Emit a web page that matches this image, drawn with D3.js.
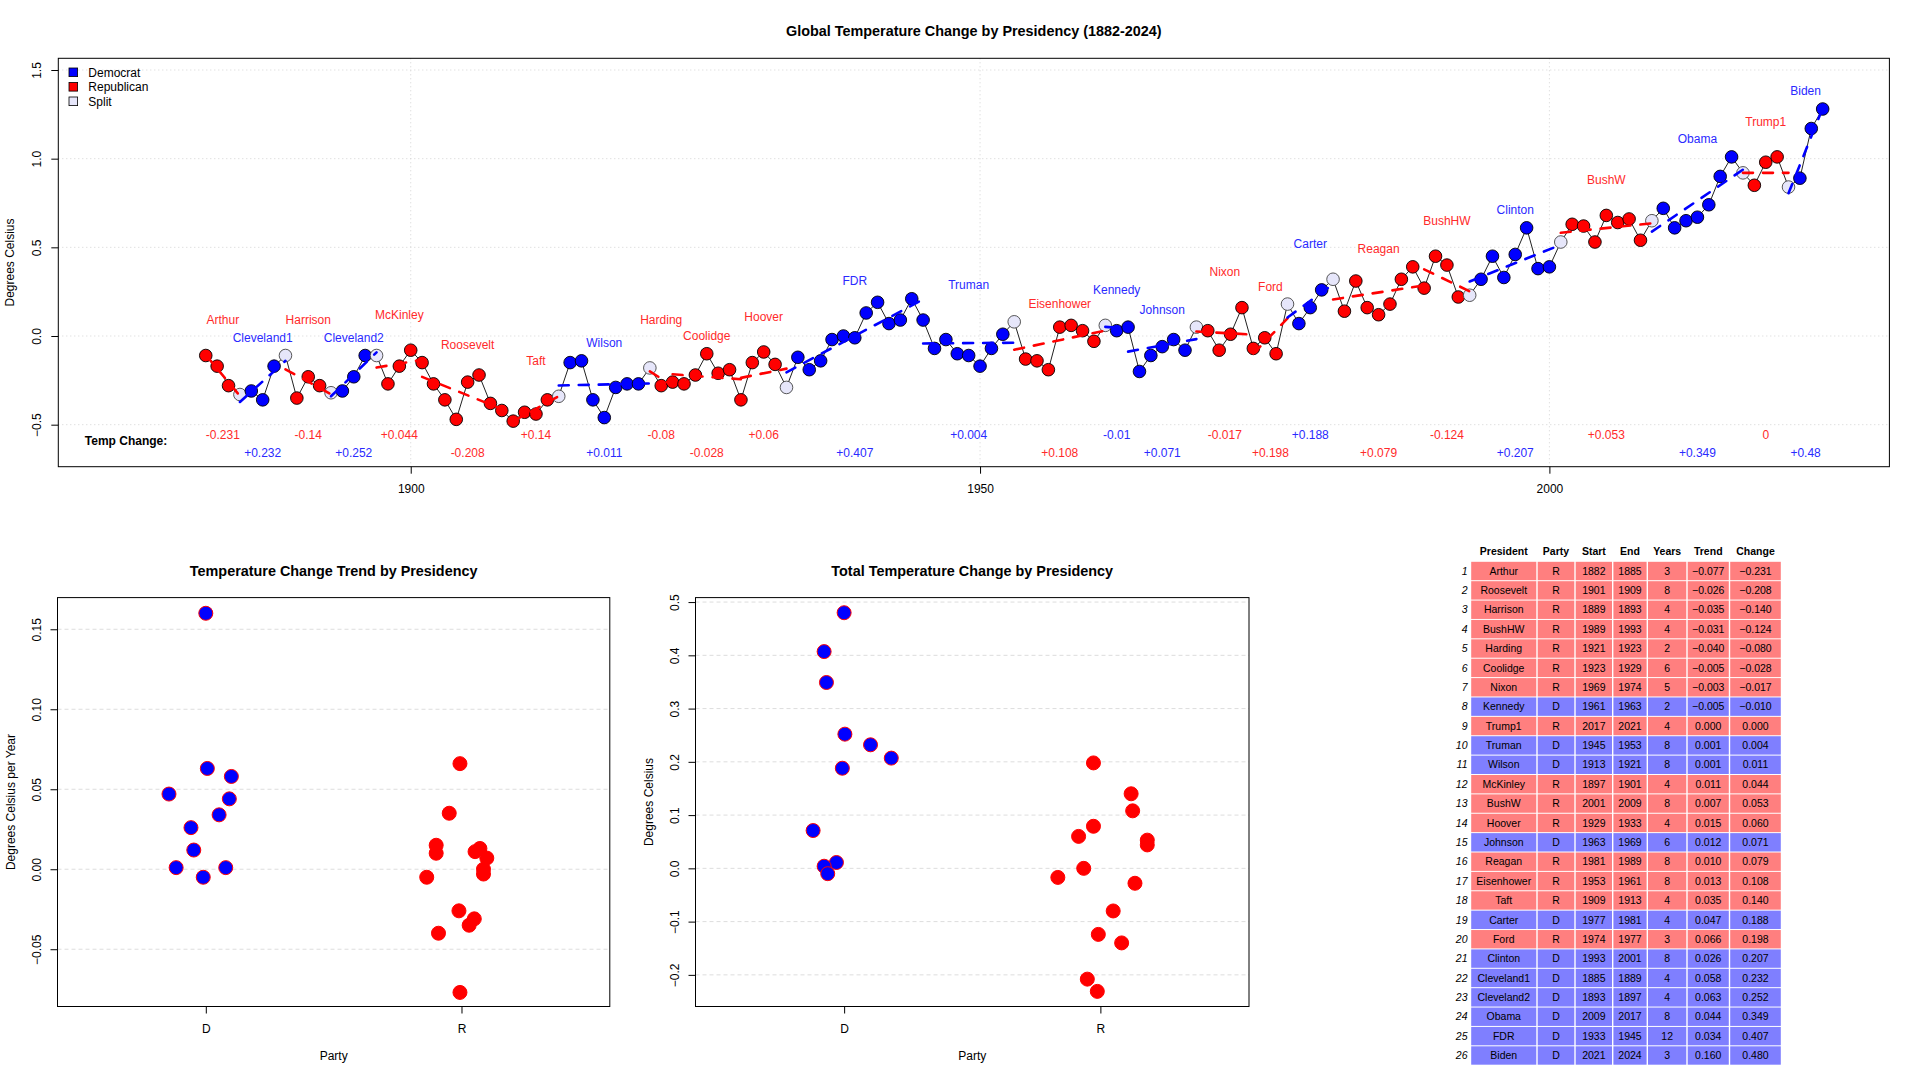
<!DOCTYPE html>
<html>
<head>
<meta charset="utf-8">
<script src="https://cdn.jsdelivr.net/npm/d3@7"></script>
<style>
body { margin: 0; background: #fff; }
svg { font-family: "Liberation Sans", Arial, Helvetica, sans-serif; }
</style>
</head>
<body>
<script>
"use strict";

// yearly global temperature anomaly (1882 .. 2024)
var firstYear = 1882;
var temps = [
  -0.11, -0.17, -0.28, -0.33, -0.31, -0.36, -0.17, -0.11,
  -0.35, -0.23, -0.28, -0.32, -0.31, -0.23, -0.11, -0.11, -0.27, -0.17,
  -0.08, -0.15, -0.27, -0.36, -0.47, -0.26, -0.22, -0.38, -0.42, -0.48,
  -0.43, -0.44, -0.36, -0.34, -0.15, -0.14, -0.36, -0.46, -0.29, -0.27,
  -0.27, -0.18, -0.28, -0.26, -0.27, -0.22, -0.10, -0.21, -0.19, -0.36,
  -0.15, -0.09, -0.16, -0.29, -0.12, -0.19, -0.14, -0.02, 0.00, -0.01,
  0.13, 0.19, 0.07, 0.09, 0.21, 0.09, -0.07, -0.02, -0.10, -0.11,
  -0.17, -0.07, 0.01, 0.08, -0.13, -0.14, -0.19, 0.05, 0.06, 0.03,
  -0.03, 0.06, 0.03, 0.05, -0.20, -0.11, -0.06, -0.02, -0.08, 0.05,
  0.03, -0.08, 0.01, 0.16, -0.07, -0.01, -0.10, 0.18, 0.07, 0.16,
  0.26, 0.32, 0.14, 0.31, 0.16, 0.12, 0.18, 0.32, 0.39, 0.27,
  0.45, 0.40, 0.22, 0.23, 0.32, 0.45, 0.33, 0.46, 0.61, 0.38,
  0.39, 0.53, 0.63, 0.62, 0.53, 0.68, 0.64, 0.66, 0.54, 0.65,
  0.72, 0.61, 0.65, 0.67, 0.74, 0.90, 1.01, 0.92, 0.85, 0.98,
  1.01, 0.84, 0.89, 1.17, 1.28
];

// presidencies in chronological order
var presNames  = ["Arthur","Cleveland1","Harrison","Cleveland2","McKinley","Roosevelt","Taft","Wilson","Harding","Coolidge","Hoover","FDR","Truman","Eisenhower","Kennedy","Johnson","Nixon","Ford","Carter","Reagan","BushHW","Clinton","BushW","Obama","Trump1","Biden"];
var presParty  = ["R","D","R","D","R","R","R","D","R","R","R","D","D","R","D","D","R","R","D","R","R","D","R","D","R","D"];
var presStart  = [1882,1885,1889,1893,1897,1901,1909,1913,1921,1923,1929,1933,1945,1953,1961,1963,1969,1974,1977,1981,1989,1993,2001,2009,2017,2021];
var presEnd    = [1885,1889,1893,1897,1901,1909,1913,1921,1923,1929,1933,1945,1953,1961,1963,1969,1974,1977,1981,1989,1993,2001,2009,2017,2021,2024];
var presTrend  = [-0.077,0.058,-0.035,0.063,0.011,-0.026,0.035,0.001,-0.040,-0.005,0.015,0.034,0.001,0.013,-0.005,0.012,-0.003,0.066,0.047,0.010,-0.031,0.026,0.007,0.044,0.000,0.160];
var presChange = [-0.231,0.232,-0.140,0.252,0.044,-0.208,0.140,0.011,-0.080,-0.028,0.060,0.407,0.004,0.108,-0.010,0.071,-0.017,0.198,0.188,0.079,-0.124,0.207,0.053,0.349,0.000,0.480];

// horizontal jitter of each president in the two strip charts (party units)
var trendJitter  = [-0.006,0.100,0.030,0.006,0.053,-0.010,-0.048,0.078,-0.090,-0.136,-0.099,0.052,-0.116,0.072,-0.010,-0.047,0.086,-0.006,-0.144,-0.099,0.050,-0.058,0.099,0.092,0.086,0.000];
var changeJitter = [-0.012,0.103,0.083,0.003,0.183,-0.051,0.120,-0.030,0.050,0.135,-0.085,-0.078,-0.078,0.126,-0.064,-0.121,-0.166,-0.027,-0.007,-0.027,-0.008,0.184,0.183,-0.069,-0.065,0.000];

var fill = {D: "#0000FF", R: "#FF0000", S: "#E6E6FA"};
var textCol = {D: "#2A2AFF", R: "#FF2A2A"};

var pres = presNames.map(function(n, i){
  return {i: i, name: n, party: presParty[i], start: presStart[i], end: presEnd[i],
          trend: presTrend[i], change: presChange[i]};
});

var years = temps.map(function(t, i){
  var y = firstYear + i;
  var ps = pres.filter(function(p){ return p.start <= y && y <= p.end; });
  var parties = new Set(ps.map(function(p){ return p.party; }));
  return {year: y, temp: t, cat: parties.size > 1 ? "S" : ps[0].party};
});

var svg = d3.select("body").append("svg")
  .attr("width", 1920).attr("height", 1080);
svg.append("rect").attr("width", 1920).attr("height", 1080).attr("fill", "#fff");

// axis helpers, R look
function yAxisR(scale, ticks, fmt, x0){
  var ax = svg.append("g").attr("transform", "translate(" + x0 + ",0)")
    .call(d3.axisLeft(scale).tickValues(ticks).tickFormat(fmt).tickSize(7).tickSizeOuter(0));
  ax.attr("font-family", null).attr("font-size", 12);
  ax.select(".domain").remove();
  ax.selectAll(".tick line").attr("stroke", "#000");
  ax.selectAll(".tick text")
    .attr("transform", "rotate(-90)")
    .attr("x", 0).attr("y", -17).attr("dy", 0)
    .attr("text-anchor", "middle").attr("fill", "#000");
}
function xAxisR(scale, ticks, fmt, y0){
  var ax = svg.append("g").attr("transform", "translate(0," + y0 + ")")
    .call(d3.axisBottom(scale).tickValues(ticks).tickFormat(fmt).tickSize(7).tickSizeOuter(0));
  ax.attr("font-family", null).attr("font-size", 12);
  ax.select(".domain").remove();
  ax.selectAll(".tick line").attr("stroke", "#000");
  ax.selectAll(".tick text").attr("y", 22).attr("dy", "0.35em").attr("fill", "#000");
}
function title(txt, x, y){
  svg.append("text").attr("x", x).attr("y", y).attr("dy", "0.35em")
    .attr("text-anchor", "middle").attr("font-size", 14.4).attr("font-weight", "bold")
    .text(txt);
}
function yTitle(txt, x, yc){
  svg.append("text").attr("transform", "translate(" + x + "," + yc + ") rotate(-90)")
    .attr("text-anchor", "middle").attr("font-size", 12).text(txt);
}

// ---------------- top chart ----------------
var L = 58.3, R = 1889.4, T = 58.3, B = 466.7;
var xTop = d3.scaleLinear().domain([1869.05, 2029.86]).range([L, R]);
var yTop = d3.scaleLinear().domain([-0.737, 1.566]).range([B, T]);
var yTicksTop = [-0.5, 0, 0.5, 1, 1.5];
var xTicksTop = [1900, 1950, 2000];

title("Global Temperature Change by Presidency (1882-2024)", 973.8, 30.6);

var grid = svg.append("g").attr("stroke", "#D3D3D3").attr("stroke-dasharray", "1,3");
grid.selectAll("line.h").data(yTicksTop).join("line")
  .attr("x1", L).attr("x2", R).attr("y1", yTop).attr("y2", yTop);
grid.selectAll("line.v").data(xTicksTop).join("line")
  .attr("y1", T).attr("y2", B).attr("x1", xTop).attr("x2", xTop);

yAxisR(yTop, yTicksTop, d3.format(".1f"), L);
xAxisR(xTop, xTicksTop, d3.format("d"), B);
yTitle("Degrees Celsius", 14, (T + B) / 2);

svg.append("path").datum(years)
  .attr("fill", "none").attr("stroke", "#222").attr("stroke-width", 1)
  .attr("d", d3.line().x(function(d){ return xTop(d.year); }).y(function(d){ return yTop(d.temp); }));

svg.append("g").selectAll("circle").data(years).join("circle")
  .attr("cx", function(d){ return xTop(d.year); })
  .attr("cy", function(d){ return yTop(d.temp); })
  .attr("r", 6.3)
  .attr("fill", function(d){ return fill[d.cat]; })
  .attr("stroke", function(d){ return d.cat === "S" ? "#444" : "#000"; })
  .attr("stroke-width", 0.9);

// least squares trend of each presidency
pres.forEach(function(p){
  var pts = years.filter(function(d){ return d.year >= p.start && d.year <= p.end; });
  var mx = d3.mean(pts, function(d){ return d.year; });
  var my = d3.mean(pts, function(d){ return d.temp; });
  var sxy = d3.sum(pts, function(d){ return (d.year - mx) * (d.temp - my); });
  var sxx = d3.sum(pts, function(d){ return (d.year - mx) * (d.year - mx); });
  var b = sxy / sxx;
  p.fit = function(x){ return my + b * (x - mx); };
  p.max = d3.max(pts, function(d){ return d.temp; });
});

svg.append("g").selectAll("line").data(pres).join("line")
  .attr("x1", function(p){ return xTop(p.start); })
  .attr("x2", function(p){ return xTop(p.end); })
  .attr("y1", function(p){ return yTop(p.fit(p.start)); })
  .attr("y2", function(p){ return yTop(p.fit(p.end)); })
  .attr("stroke", function(p){ return fill[p.party]; })
  .attr("stroke-width", 2.6)
  .attr("stroke-dasharray", "10,10")
  .attr("stroke-linecap", "round");

// names above each term, alternating height
var nudge = {Harding: 0.07};
svg.append("g").selectAll("text").data(pres).join("text")
  .attr("x", function(p){ return xTop((p.start + p.end) / 2); })
  .attr("y", function(p){ return yTop(p.max + (p.i % 2 === 0 ? 0.2 : 0.1) + (nudge[p.name] || 0)); })
  .attr("dy", "0.35em")
  .attr("text-anchor", "middle").attr("font-size", 12)
  .attr("fill", function(p){ return textCol[p.party]; })
  .text(function(p){ return p.name; });

// change values along the bottom
function fmtChange(v){
  var s = String(+v.toFixed(3));
  return v > 0 ? "+" + s : s;
}
svg.append("g").selectAll("text").data(pres).join("text")
  .attr("x", function(p){ return xTop((p.start + p.end) / 2); })
  .attr("y", function(p){ return p.i % 2 === 0 ? B - 31.7 : B - 14; })
  .attr("dy", "0.35em")
  .attr("text-anchor", "middle").attr("font-size", 12)
  .attr("fill", function(p){ return textCol[p.party]; })
  .text(function(p){ return fmtChange(p.change); });

svg.append("text").attr("x", 126).attr("y", 441).attr("dy", "0.35em")
  .attr("text-anchor", "middle").attr("font-size", 12).attr("font-weight", "bold")
  .text("Temp Change:");

// legend
var legendItems = [["Democrat", "D"], ["Republican", "R"], ["Split", "S"]];
var lg = svg.append("g");
legendItems.forEach(function(it, k){
  var yc = 72.3 + k * 14.5;
  lg.append("rect").attr("x", 69).attr("y", yc - 4.3).attr("width", 8.6).attr("height", 8.6)
    .attr("fill", fill[it[1]]).attr("stroke", "#000").attr("stroke-width", 0.8);
  lg.append("text").attr("x", 88.3).attr("y", yc).attr("dy", "0.35em")
    .attr("font-size", 12).text(it[0]);
});

svg.append("rect").attr("x", L).attr("y", T).attr("width", R - L).attr("height", B - T)
  .attr("fill", "none").attr("stroke", "#000").attr("stroke-width", 1);

// ---------------- strip charts ----------------
function strip(opts){
  var x = d3.scaleLinear().domain([0.42, 2.58]).range([opts.L, opts.R]);
  var y = d3.scaleLinear().domain(opts.ydom).range([opts.B, opts.T]);
  title(opts.title, (opts.L + opts.R) / 2, 570.6);
  svg.append("g").attr("stroke", "#DDDDDD").attr("stroke-dasharray", "4,3")
    .selectAll("line").data(opts.ticks).join("line")
    .attr("x1", opts.L).attr("x2", opts.R).attr("y1", y).attr("y2", y);
  yAxisR(y, opts.ticks, opts.fmt, opts.L);
  xAxisR(x, [1, 2], function(d){ return d === 1 ? "D" : "R"; }, opts.B);
  yTitle(opts.ylab, opts.L - 43, (opts.T + opts.B) / 2);
  svg.append("text").attr("x", (opts.L + opts.R) / 2).attr("y", 1055.5).attr("dy", "0.35em")
    .attr("text-anchor", "middle").attr("font-size", 12).text("Party");
  svg.append("g").selectAll("circle").data(pres).join("circle")
    .attr("cx", function(p){ return x((p.party === "D" ? 1 : 2) + opts.jitter[p.i]); })
    .attr("cy", function(p){ return y(opts.value(p)); })
    .attr("r", 7)
    .attr("fill", function(p){ return fill[p.party]; })
    .attr("stroke", "#FF0000").attr("stroke-width", 1);
  svg.append("rect").attr("x", opts.L).attr("y", opts.T)
    .attr("width", opts.R - opts.L).attr("height", opts.B - opts.T)
    .attr("fill", "none").attr("stroke", "#000").attr("stroke-width", 1);
}

strip({
  L: 57.5, R: 609.8, T: 597.6, B: 1006.5,
  ydom: [-0.0858, 0.1698], ticks: [-0.05, 0, 0.05, 0.1, 0.15], fmt: d3.format(".2f"),
  title: "Temperature Change Trend by Presidency", ylab: "Degrees Celsius per Year",
  jitter: trendJitter, value: function(p){ return p.trend; }
});
strip({
  L: 695.5, R: 1249, T: 597.6, B: 1006.5,
  ydom: [-0.2594, 0.5084], ticks: [-0.2, -0.1, 0, 0.1, 0.2, 0.3, 0.4, 0.5], fmt: d3.format(".1f"),
  title: "Total Temperature Change by Presidency", ylab: "Degrees Celsius",
  jitter: changeJitter, value: function(p){ return p.change; }
});

// ---------------- table ----------------
var tableRows = d3.sort(pres, function(p){ return p.change; });
var edges = [1470.5, 1537, 1575, 1612.7, 1647.3, 1687, 1729.5, 1781.5];
var f3 = d3.format(".3f");
var columns = [
  {head: "President", get: function(p){ return p.name; }},
  {head: "Party",     get: function(p){ return p.party; }},
  {head: "Start",     get: function(p){ return p.start; }},
  {head: "End",       get: function(p){ return p.end; }},
  {head: "Years",     get: function(p){ return p.end - p.start; }},
  {head: "Trend",     get: function(p){ return f3(p.trend); }},
  {head: "Change",    get: function(p){ return f3(p.change); }}
];
var rowY0 = 571, rowH = 19.38;
var cellFill = {D: "#7F7FFF", R: "#FF7F7F"};
var tb = svg.append("g").attr("font-size", 10.5);

columns.forEach(function(c, j){
  tb.append("text").attr("x", (edges[j] + edges[j + 1]) / 2).attr("y", 551).attr("dy", "0.35em")
    .attr("text-anchor", "middle").attr("font-weight", "bold").text(c.head);
});

tableRows.forEach(function(p, k){
  var cy = rowY0 + k * rowH;
  tb.append("text").attr("x", 1467.5).attr("y", cy).attr("dy", "0.35em")
    .attr("text-anchor", "end").attr("font-style", "italic").text(k + 1);
  columns.forEach(function(c, j){
    tb.append("rect").attr("x", edges[j] + 0.7).attr("y", cy - rowH / 2 + 0.5)
      .attr("width", edges[j + 1] - edges[j] - 1.4).attr("height", rowH - 1)
      .attr("fill", cellFill[p.party]);
    tb.append("text").attr("x", (edges[j] + edges[j + 1]) / 2).attr("y", cy).attr("dy", "0.35em")
      .attr("text-anchor", "middle").text(c.get(p));
  });
});
</script>
</body>
</html>
